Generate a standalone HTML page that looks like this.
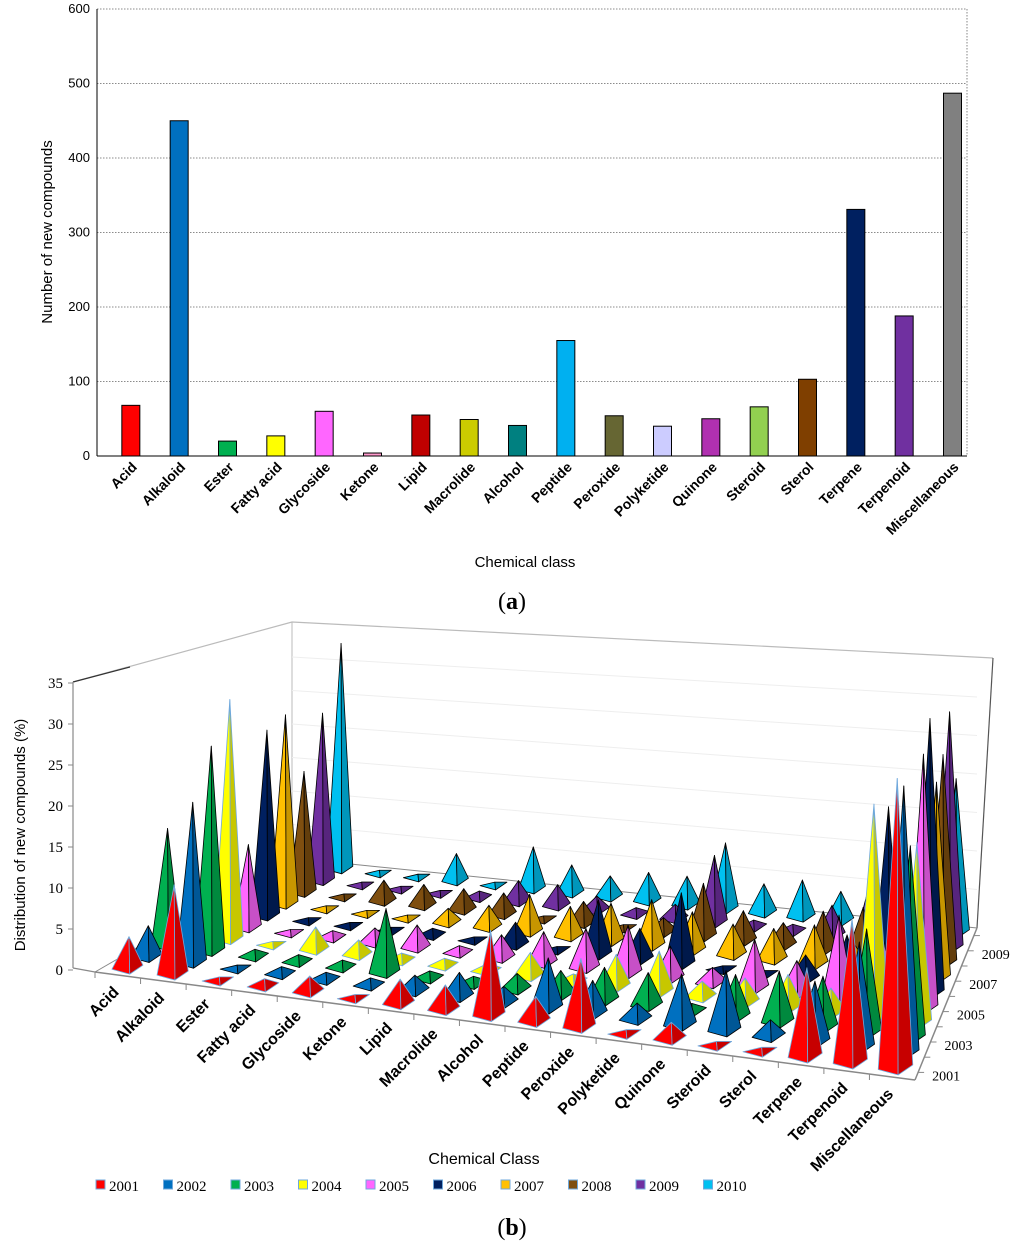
<!DOCTYPE html>
<html><head><meta charset="utf-8">
<style>
html,body{margin:0;padding:0;background:#fff;}
svg{display:block;font-family:"Liberation Sans",sans-serif;}
</style></head>
<body>
<svg id="chart" width="1024" height="1246" viewBox="0 0 1024 1246" xmlns="http://www.w3.org/2000/svg">
<g id="topchart"></g>
<g id="botchart"></g>
</svg>
<script>
const categories = ["Acid","Alkaloid","Ester","Fatty acid","Glycoside","Ketone","Lipid","Macrolide","Alcohol","Peptide","Peroxide","Polyketide","Quinone","Steroid","Sterol","Terpene","Terpenoid","Miscellaneous"];
const counts = [68,450,20,27,60,4,55,49,41,155,54,40,50,66,103,331,188,487];
const barColors = ["#ff0000","#0070c0","#00b050","#ffff00","#ff66ff","#ff99cc","#c00000","#cccc00","#008080","#00b0f0","#666633","#ccccff","#b030b0","#92d050","#7f3f00","#002060","#7030a0","#808080"];
const yTicks = [0,100,200,300,400,500,600];

const years = ["2001","2002","2003","2004","2005","2006","2007","2008","2009","2010"];
const yearColors = ["#ff0000","#0070c0","#00b050","#ffff00","#ff66ff","#002060","#ffc000","#7f4f10","#7030a0","#00c0f0"];
const zTicks = [0,5,10,15,20,25,30,35];
const dAcid = [4,4,15,0.5,0.5,0.5,0.5,0.5,0.5,0.5];
const dAlkaloid = [11,20,26,31,11,25,26,17,24,33];
const dEster = [0.5,0.5,1,0.5,0.5,0.5,0.5,0.5,0.5,0.5];
const dFatty = [1,1,1,3,1,0.5,0.5,3,0.5,0.5];
const dGlycoside = [2,1,1,2,2,0.5,0.5,3,0.5,4];
const dKetone = [0.5,1,8,1,3,1,2,3,1,0.5];
const dLipid = [3,2,1,1,1,0.5,3,3,3,6];
const dMacrolide = [3,3,1,1,3,3,5,0.5,3,4];
const dAlcohol = [10,2,2,3,4,0.5,4,3,2,3];
const dPeptide = [3,6,3,1,5,7,5,0.5,1,4];
const dPeroxide = [8,4,4,4,6,4,6,2,2,4];
const dPolyketide = [0.5,2,4,5,4,9,5,7,9,9];
const dQuinone = [2,6,1,2,2,0.5,4,4,1,4];
const dSteroid = [0.5,7,5,3,6,0.5,4,3,1,5];
const dSterol = [0.5,2,6,4,4,3,5,5,4,4];
const dTerpene = [10,7,6,3,10,6,3,6,8,3];
const dTerpenoid = [16,12,12,25,9,22,16,12,6,9];
const dMisc = [32,30,22,21,30,33,24,26,30,20];
const dist = [dAcid,dAlkaloid,dEster,dFatty,dGlycoside,dKetone,dLipid,dMacrolide,dAlcohol,dPeptide,dPeroxide,dPolyketide,dQuinone,dSteroid,dSterol,dTerpene,dTerpenoid,dMisc];

const NS="http://www.w3.org/2000/svg";
function mk(parent,tag,attrs,text){const el=document.createElementNS(NS,tag);for(const k in attrs)el.setAttribute(k,attrs[k]);if(text!==undefined)el.textContent=text;parent.appendChild(el);return el;}

/* ---------- chart (a) ---------- */
const gTop=document.getElementById('topchart');
const X0=97,X1=967,Y0=456,Y1=9;
const yS=v=>Y0-(v/600)*(Y0-Y1);
const step=(X1-X0)/18;
const xC=i=>X0+step*(i+0.7);
for(const t of yTicks){
  if(t>0){const g=mk(gTop,'line',{x1:X0,x2:X1,y1:yS(t),y2:yS(t),stroke:'#666','stroke-width':0.8,'stroke-dasharray':'1.5,1.5'});
  
  }
  const l=mk(gTop,'text',{x:X0-7,y:yS(t)+4,'text-anchor':'end','font-size':13,fill:'#000'},String(t));
  
  
}
mk(gTop,'line',{x1:X1,x2:X1,y1:Y1,y2:Y0,stroke:'#666','stroke-width':0.8,'stroke-dasharray':'1.5,1.5'});
mk(gTop,'line',{x1:X0,x2:X0,y1:Y1,y2:Y0,stroke:'#000','stroke-width':1});
mk(gTop,'line',{x1:X0,x2:X1,y1:Y0,y2:Y0,stroke:'#000','stroke-width':1});
categories.forEach((c,i)=>{
  const r=mk(gTop,'rect',{x:xC(i)-9,y:yS(counts[i]),width:18,height:Y0-yS(counts[i]),fill:barColors[i],stroke:'#000','stroke-width':1});
  
  
  const t=mk(gTop,'text',{x:xC(i)+7,y:468,'text-anchor':'end','font-size':14,'font-weight':'bold',transform:`rotate(-45 ${xC(i)+7} 468)`},c);
  
  
});
let el=mk(gTop,'text',{x:52,y:232,'text-anchor':'middle','font-size':15,transform:'rotate(-90 52 232)'},'Number of new compounds');


el=mk(gTop,'text',{x:525,y:567,'text-anchor':'middle','font-size':15},'Chemical class');


el=mk(gTop,'text',{x:512,y:609,'text-anchor':'middle','font-size':24,'font-family':'Liberation Serif, serif'});
el.innerHTML='(<tspan font-weight="bold">a</tspan>)';



/* ---------- chart (b) ---------- */
const gBot=document.getElementById('botchart');
const FL=[95,972],FR=[915,1080],BL=[292,858],BR=[977,928];
const SFL=8.2,SFR=9.2,SBL=6.7,SBR=7.7;
function P(u,v){
  const x=(1-v)*((1-u)*FL[0]+u*FR[0])+v*((1-u)*BL[0]+u*BR[0]);
  const y=(1-v)*((1-u)*FL[1]+u*FR[1])+v*((1-u)*BL[1]+u*BR[1]);
  return [x,y];
}
function S(u,v){return (1-v)*((1-u)*SFL+u*SFR)+v*((1-u)*SBL+u*SBR);}
mk(gBot,'polyline',{points:`73,682 292,622 993,658`,fill:'none',stroke:'#bbb','stroke-width':1.2});
mk(gBot,'line',{x1:73,y1:682,x2:130,y2:667,stroke:'#333','stroke-width':1.2});
mk(gBot,'line',{x1:292,y1:622,x2:292,y2:858,stroke:'#bbb','stroke-width':1});
mk(gBot,'line',{x1:993,y1:658,x2:977,y2:928,stroke:'#555','stroke-width':1.2});
mk(gBot,'polyline',{points:`292,858 977,928`,fill:'none',stroke:'#888','stroke-width':1});
mk(gBot,'polyline',{points:`292,858 95,972`,fill:'none',stroke:'#888','stroke-width':1});
for(const t of zTicks){ if(t===0||t===35) continue;
  const g=mk(gBot,'line',{x1:292,y1:858-t*SBL,x2:977,y2:928-t*SBR,stroke:'#eee','stroke-width':1});
  
  }
mk(gBot,'line',{x1:73,y1:682,x2:73,y2:968,stroke:'#888','stroke-width':1.2});
mk(gBot,'line',{x1:73,y1:968,x2:95,y2:972,stroke:'#888','stroke-width':1.2});
for(const t of zTicks){
  const y=970-t*SFL;
  mk(gBot,'line',{x1:68,x2:73,y1:y,y2:y,stroke:'#888'});
  const l=mk(gBot,'text',{x:63,y:y+5,'text-anchor':'end','font-size':15,'font-family':'Liberation Serif, serif'},String(t));
  
  
}
el=mk(gBot,'text',{x:25,y:835,'text-anchor':'middle','font-size':15,transform:'rotate(-90 25 835)'},'Distribution  of new compounds (%)');


mk(gBot,'line',{x1:FL[0],y1:FL[1],x2:FR[0],y2:FR[1],stroke:'#888','stroke-width':1.5});
categories.forEach((c,i)=>{
  const p=P(i/18,0);
  mk(gBot,'line',{x1:p[0],y1:p[1],x2:p[0],y2:p[1]+6,stroke:'#888'});
  const q=P((i+0.5)/18,0);
  const t=mk(gBot,'text',{x:q[0]+2,y:q[1]+18,'text-anchor':'end','font-size':16,'font-weight':'bold',transform:`rotate(-45 ${q[0]+2} ${q[1]+18})`},c);
  
  
});
mk(gBot,'line',{x1:FR[0],y1:FR[1],x2:BR[0],y2:BR[1],stroke:'#888','stroke-width':1.5});
years.forEach((yr,j)=>{
  const p=P(1,(j+0.5)/10);
  mk(gBot,'line',{x1:p[0],y1:p[1],x2:p[0]+6,y2:p[1],stroke:'#888'});
  if(j%2===0){const t=mk(gBot,'text',{x:p[0]+14,y:p[1]+8,'font-size':14,'font-family':'Liberation Serif, serif'},yr);
  
  }
});
function shade(hex,f){const n=parseInt(hex.slice(1),16);let r=(n>>16)&255,g=(n>>8)&255,b=n&255;r=Math.round(r*f);g=Math.round(g*f);b=Math.round(b*f);return `rgb(${r},${g},${b})`;}
const items=[];
for(let j=9;j>=0;j--) for(let i=0;i<18;i++) items.push([i,j]);
items.forEach(([i,j])=>{
  const u=(i+0.5)/18,v=(j+0.5)/10;
  const c=P(u,v), s=S(u,v);
  const w=s*1.9, h=dist[i][j]*s;
  const L=[c[0]-w,c[1]], F=[c[0]+w*0.15,c[1]+s*0.6], R=[c[0]+w,c[1]-s*0.5], A=[c[0]+w*0.1,c[1]-h];
  const col=yearColors[j];
  const edge=(j===0||j===3)?'#6fa8dc':'#000';
  const g=mk(gBot,'g',{});
  
  
  mk(g,'polygon',{points:`${L[0]},${L[1]} ${A[0]},${A[1]} ${F[0]},${F[1]}`,fill:col,stroke:edge,'stroke-width':0.8,'stroke-linejoin':'round'});
  mk(g,'polygon',{points:`${F[0]},${F[1]} ${A[0]},${A[1]} ${R[0]},${R[1]}`,fill:shade(col,0.78),stroke:edge,'stroke-width':0.8,'stroke-linejoin':'round'});
});
el=mk(gBot,'text',{x:484,y:1164,'text-anchor':'middle','font-size':16},'Chemical Class');


years.forEach((yr,j)=>{
  const x=96+j*67.5;
  const r=mk(gBot,'rect',{x:x,y:1180,width:9,height:9,fill:yearColors[j],stroke:'#6fa8dc','stroke-width':1});
  
  
  const t=mk(gBot,'text',{x:x+13,y:1191,'font-size':15,'font-family':'Liberation Serif, serif'},yr);
  
  
});
el=mk(gBot,'text',{x:512,y:1235,'text-anchor':'middle','font-size':24,'font-family':'Liberation Serif, serif'});
el.innerHTML='(<tspan font-weight="bold">b</tspan>)';


</script>
</body></html>
